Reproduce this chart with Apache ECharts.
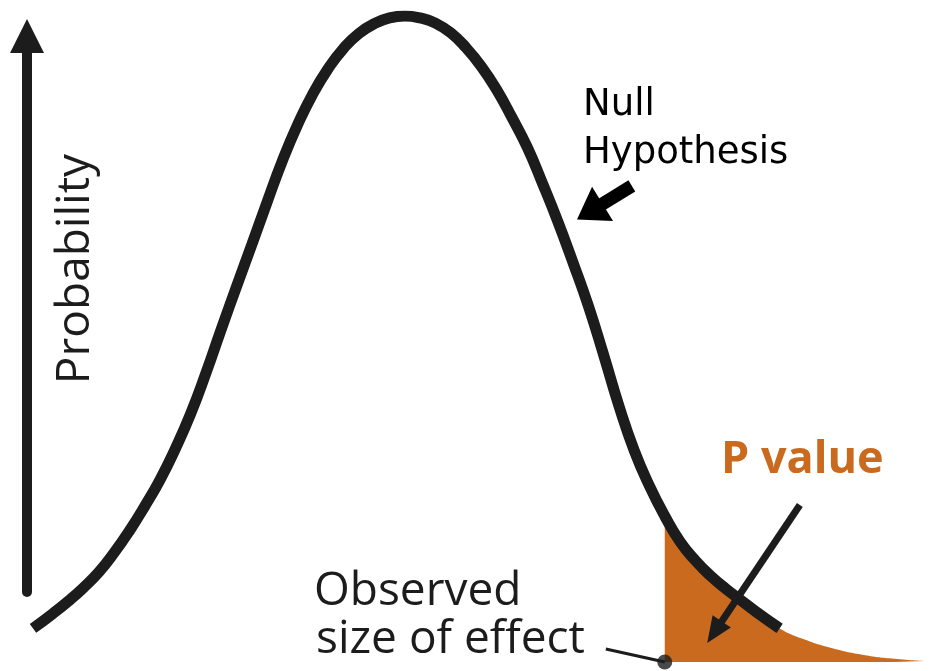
<!DOCTYPE html>
<html>
<head>
<meta charset="utf-8">
<script src="https://cdn.jsdelivr.net/npm/echarts@6/dist/echarts.min.js"></script>
<style>
  html, body { margin: 0; padding: 0; background: #ffffff; }
  #chart { width: 933px; height: 671px; }
</style>
</head>
<body>
<div id="chart"></div>
<script>
// Null-hypothesis density, in standard-deviation units (x) and relative height (y)
const curveX = [-2.43, -2.3, -2.2, -2.1, -2.0, -1.9, -1.8, -1.7, -1.6, -1.5, -1.4, -1.3, -1.2, -1.1, -1.0,
                -0.9, -0.8, -0.7, -0.6, -0.5, -0.4, -0.3, -0.2, -0.1, 0,
                0.1, 0.2, 0.3, 0.4, 0.5, 0.6, 0.7, 0.8, 0.9, 1.0, 1.1, 1.2, 1.3, 1.4, 1.5, 1.6, 1.699,
                1.8, 1.9, 2.0, 2.1, 2.2, 2.3, 2.45];
const curveY = [0.052, 0.075, 0.094, 0.115, 0.139, 0.169, 0.203, 0.241, 0.282, 0.330, 0.384, 0.447, 0.515, 0.581, 0.646,
                0.712, 0.776, 0.832, 0.880, 0.919, 0.950, 0.973, 0.988, 0.997, 1.000,
                0.997, 0.989, 0.974, 0.951, 0.922, 0.886, 0.843, 0.797, 0.741, 0.682, 0.618, 0.551, 0.475, 0.396, 0.327, 0.272, 0.226,
                0.186, 0.157, 0.133, 0.113, 0.095, 0.077, 0.052];
// Far tail of the same density beyond the drawn curve
const tailX = [2.6, 2.8, 3.0, 3.2, 3.4];
const tailY = [0.036, 0.021, 0.011, 0.005, 0.0015];
// Observed effect size: the P value is the area to its right
const observed = 1.699;

const INK = '#1c1c1c';
const ORANGE = '#c96a1f';
const TRIANGLE = 'path://M5,0 L10,10 L0,10 Z';

const curve = curveX.map((x, i) => [x, curveY[i]]);
const tailArea = curve.filter(p => p[0] >= observed)
  .concat(tailX.map((x, i) => [x, tailY[i]]));

const chart = echarts.init(document.getElementById('chart'), null, { renderer: 'canvas' });

chart.setOption({
  animation: false,
  backgroundColor: '#ffffff',
  grid: [
    { left: 7, right: 8, top: 16, bottom: 9 },
    { left: 27, width: 10, top: 36, bottom: 79 }
  ],
  xAxis: [
    { type: 'value', gridIndex: 0, min: -2.6, max: 3.4, show: false },
    { type: 'value', gridIndex: 1, min: 0, max: 1, show: false }
  ],
  yAxis: [
    { type: 'value', gridIndex: 0, min: 0, max: 1, show: false },
    {
      type: 'value', gridIndex: 1, min: 0, max: 1, position: 'left',
      axisLine: {
        show: true,
        symbol: ['none', TRIANGLE],
        symbolSize: [34, 42],
        lineStyle: { color: INK, width: 10 }
      },
      axisTick: { show: false },
      axisLabel: { show: false },
      splitLine: { show: false }
    }
  ],
  series: [
    {
      name: 'P value',
      type: 'line',
      data: tailArea,
      smooth: 0.5,
      showSymbol: false,
      lineStyle: { width: 0 },
      areaStyle: { color: ORANGE, opacity: 1 },
      z: 1,
      silent: true
    },
    {
      name: 'Null Hypothesis',
      type: 'line',
      data: curve,
      smooth: 0.5,
      showSymbol: false,
      lineStyle: { color: INK, width: 11 },
      z: 3,
      silent: true,
      markLine: {
        silent: true,
        label: { show: false },
        emphasis: { disabled: true },
        data: [
          // pointer to the curve
          [
            { coord: [1.484, 0.737], symbol: 'none', lineStyle: { color: '#000', width: 13, type: 'solid' } },
            { coord: [1.209, 0.697], symbol: TRIANGLE, symbolSize: [40, 30] }
          ],
          // pointer to the shaded tail
          [
            { coord: [2.582, 0.243], symbol: 'none', lineStyle: { color: INK, width: 7, type: 'solid' } },
            { coord: [2.024, 0.046], symbol: TRIANGLE, symbolSize: [22, 26] }
          ],
          // leader from the label to the observed value
          [
            { coord: [1.314, 0.020], symbol: 'none', lineStyle: { color: INK, width: 3, type: 'solid' } },
            { coord: [observed, 0], symbol: 'none' }
          ]
        ]
      }
    },
    {
      name: 'Observed',
      type: 'scatter',
      data: [[observed, 0]],
      symbol: 'circle',
      symbolSize: 15,
      itemStyle: { color: INK },
      z: 4,
      silent: true
    }
  ],
  graphic: [
    {
      type: 'text', x: 76, y: 269, rotation: Math.PI / 2,
      style: { text: 'Probability', fontFamily: '"Open Sans"', fontWeight: 500, fontSize: 46, fill: INK, align: 'center', verticalAlign: 'middle' }
    },
    {
      type: 'text', x: 583, y: 105,
      style: { text: 'Null', fontFamily: '"DejaVu Sans"', fontSize: 37, fill: '#000', align: 'left', verticalAlign: 'middle' }
    },
    {
      type: 'text', x: 583, y: 153,
      style: { text: 'Hypothesis', fontFamily: '"DejaVu Sans"', fontSize: 37, fill: '#000', align: 'left', verticalAlign: 'middle' }
    },
    {
      type: 'text', x: 721, y: 460,
      style: { text: 'P value', fontFamily: '"Open Sans"', fontWeight: 'bold', fontSize: 45, fill: ORANGE, align: 'left', verticalAlign: 'middle' }
    },
    {
      type: 'text', x: 314, y: 592,
      style: { text: 'Observed', fontFamily: '"Open Sans"', fontWeight: 500, fontSize: 46, fill: INK, align: 'left', verticalAlign: 'middle' }
    },
    {
      type: 'text', x: 316, y: 640,
      style: { text: 'size of effect', fontFamily: '"Open Sans"', fontWeight: 500, fontSize: 46, fill: INK, align: 'left', verticalAlign: 'middle' }
    }
  ]
});
</script>
</body>
</html>
